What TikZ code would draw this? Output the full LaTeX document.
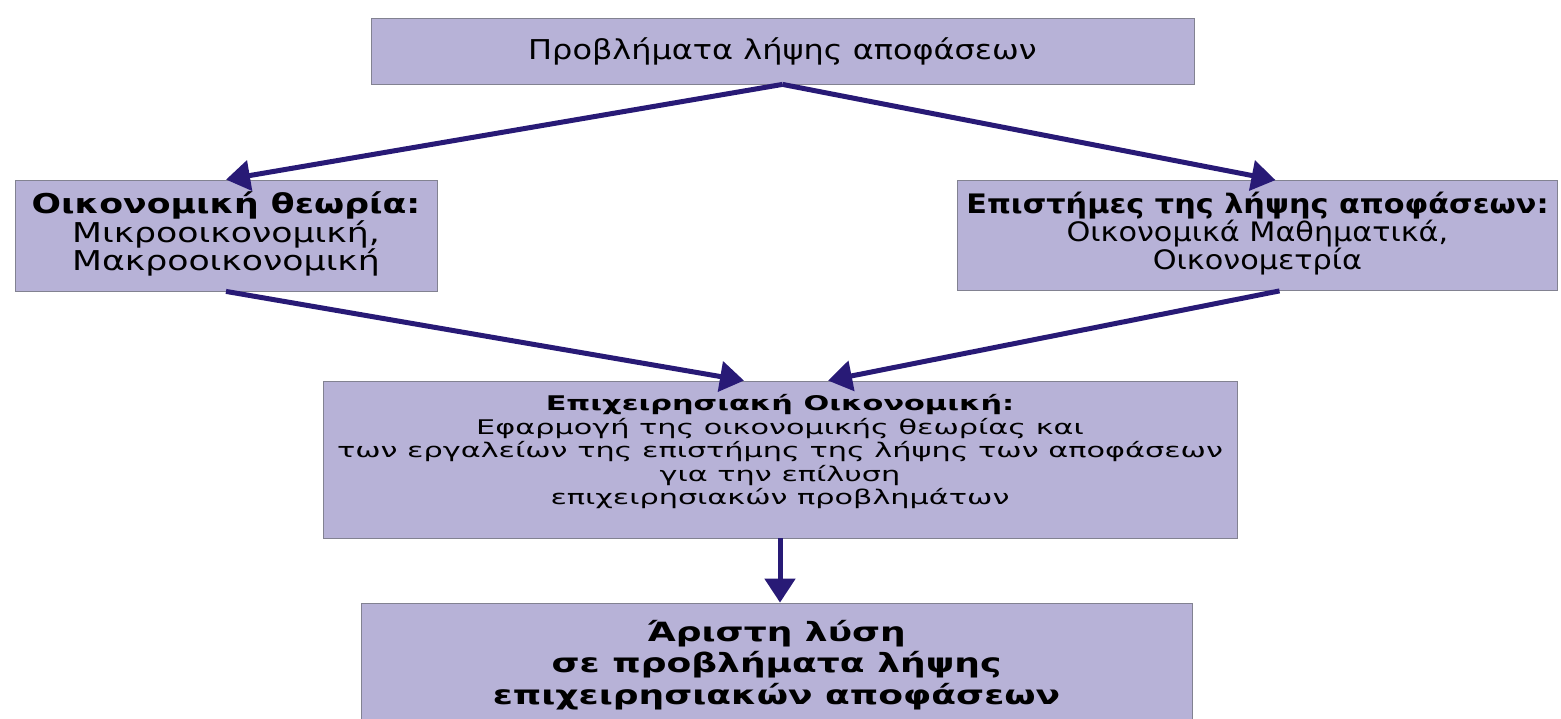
\documentclass[tikz,border=0pt]{standalone}
\usepackage{fontspec}
\setmainfont{DejaVu Sans}[FakeStretch=1.5]
\newfontfamily\probfont{DejaVu Sans}[FakeStretch=1.17]
\newfontfamily\theoryfont{DejaVu Sans}[FakeStretch=1.27]
\newfontfamily\sciencefont{DejaVu Sans}[FakeStretch=1.13]
\newfontfamily\bestfont{DejaVu Sans}[FakeStretch=1.36]
\usepackage{tikz}
\usetikzlibrary{arrows.meta}
\definecolor{boxfill}{RGB}{183,178,215}
\definecolor{boxline}{RGB}{130,130,145}
\definecolor{arrowblue}{RGB}{40,26,118}
\tikzset{box/.style={rectangle, draw=boxline, fill=boxfill, line width=0.8pt,
      align=center, inner sep=0pt, font=\fontsize{20.2}{23.5}\selectfont}}
\tikzset{link/.style={draw=arrowblue, line width=5pt,
      -{Triangle[length=24pt,width=30pt]}}}

\begin{document}
\begin{tikzpicture}[x=1pt,y=-1pt]
		\clip (0,0) rectangle (1561,718);
		\node[box, minimum width=823pt, minimum height=66pt, font=\probfont\fontsize{27.3}{30}\selectfont] (prob) at (782.5,51) {Προβλήματα λήψης αποφάσεων};
		\node[box, minimum width=422pt, minimum height=111pt, font=\theoryfont\fontsize{27.3}{24.5}\selectfont] (theory) at (226,235.5) {\textbf{Οικονομική θεωρία:}\\Μικροοικονομική,\\Μακροοικονομική\\[-16pt]\mbox{}};
		\node[box, minimum width=600pt, minimum height=110pt, font=\sciencefont\fontsize{26.8}{25.5}\selectfont] (science) at (1257.5,235.5) {\textbf{Επιστήμες της λήψης αποφάσεων:}\\Οικονομικά Μαθηματικά,\\Οικονομετρία\\[-16pt]\mbox{}};
		\node[box, minimum width=914pt, minimum height=157pt] (mgr) at (780,459.5) {\textbf{Επιχειρησιακή Οικονομική:}\\Εφαρμογή της οικονομικής θεωρίας και\\των εργαλείων της επιστήμης της λήψης των αποφάσεων\\για την επίλυση\\επιχειρησιακών προβλημάτων\\[-4pt]\mbox{}};
		\node[box, minimum width=831pt, minimum height=124pt, font=\bestfont\fontsize{26.5}{31.5}\selectfont\bfseries] (best) at (776.5,665) {Άριστη λύση\\σε προβλήματα λήψης\\επιχειρησιακών αποφάσεων};
		\draw[link] (prob.south) -- (theory.north);
		\draw[link] (prob.south) -- ([xshift=18pt]science.north);
		\draw[link] (theory.south) -- ([xshift=-36pt]mgr.north);
		\draw[link] ([xshift=22pt]science.south) -- ([xshift=48pt]mgr.north);
		\draw[link] (mgr.south) -- (mgr.south |- best.north);
\end{tikzpicture}
\end{document}
